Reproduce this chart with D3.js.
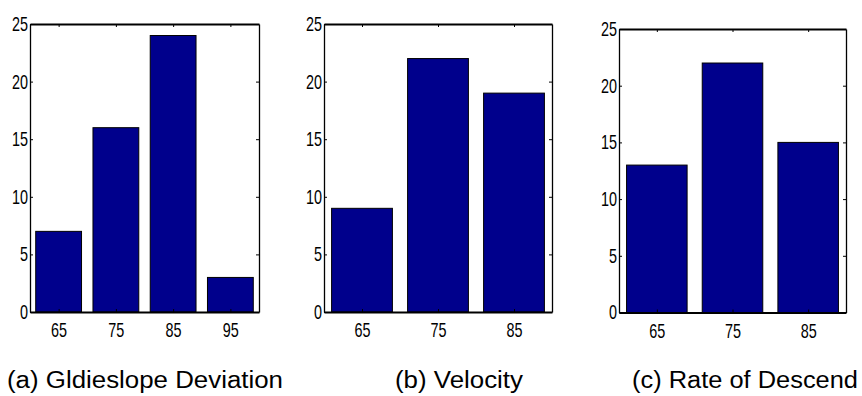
<!DOCTYPE html>
<html>
<head>
<meta charset="utf-8">
<script src="https://cdn.jsdelivr.net/npm/d3@7"></script>
<style>
  body { margin: 0; background: #fff; }
  svg { display: block; }
</style>
</head>
<body>
<svg id="chart" width="862" height="396"></svg>
<script>
// ---- data ----
const categoriesA = [65, 75, 85, 95];
const valuesA = [7, 16, 24, 3];
const categoriesB = [65, 75, 85];
const valuesB = [9, 22, 19];
const categoriesC = [65, 75, 85];
const valuesC = [13, 22, 15];
const yTicks = [0, 5, 10, 15, 20, 25];
const captions = ["(a) Gldieslope Deviation", "(b) Velocity", "(c) Rate of Descend"];

const svg = d3.select("#chart");
const tickFont = "'Liberation Sans', Arial, Helvetica, sans-serif";
const capFont = "'Liberation Sans', Arial, Helvetica, sans-serif";
const barColor = "#00008c";

const panels = [
  {cats: categoriesA, vals: valuesA, x0: 30, x1: 259, y0: 24, y1: 312, xdom: [60, 100]},
  {cats: categoriesB, vals: valuesB, x0: 324, x1: 552, y0: 24, y1: 312, xdom: [60, 90]},
  {cats: categoriesC, vals: valuesC, x0: 619, x1: 846, y0: 29, y1: 312.5, xdom: [60, 90]}
];
const capPos = [{x: 7, w: 276}, {x: 395, w: 128}, {x: 632, w: 226}];

panels.forEach((p, i) => {
  const x = d3.scaleLinear().domain(p.xdom).range([p.x0, p.x1]);
  const y = d3.scaleLinear().domain([0, 25]).range([p.y1, p.y0]);
  const g = svg.append("g");

  // bars
  g.selectAll("rect.bar").data(p.cats).join("rect")
    .attr("class", "bar")
    .attr("x", c => x(c - 4))
    .attr("width", c => x(c + 4) - x(c - 4))
    .attr("y", (c, j) => y(p.vals[j]))
    .attr("height", (c, j) => y(0) - y(p.vals[j]))
    .attr("fill", barColor)
    .attr("stroke", "#000")
    .attr("stroke-width", 1);

  // axes
  const left = d3.axisLeft(y).tickValues(yTicks).tickSizeInner(-3).tickSizeOuter(0).tickPadding(2);
  const right = d3.axisRight(y).tickValues(yTicks).tickSizeInner(-3).tickSizeOuter(0).tickFormat("");
  const bottom = d3.axisBottom(x).tickValues(p.cats).tickSizeInner(-3).tickSizeOuter(0).tickPadding(11);
  const top = d3.axisTop(x).tickValues(p.cats).tickSizeInner(-3).tickSizeOuter(0).tickFormat("");

  const gl = g.append("g").attr("transform", `translate(${p.x0},0)`).call(left);
  const gr = g.append("g").attr("transform", `translate(${p.x1},0)`).call(right);
  const gb = g.append("g").attr("transform", `translate(0,${p.y1})`).call(bottom);
  const gt = g.append("g").attr("transform", `translate(0,${p.y0})`).call(top);

  [gl, gr, gb, gt].forEach(a => {
    a.selectAll("path.domain").attr("stroke", "#000").attr("stroke-width", 1.3);
    a.selectAll(".tick line").attr("stroke", "#000").attr("stroke-width", 1);
    a.selectAll(".tick text")
      .attr("fill", "#000")
      .style("font-family", tickFont)
      .style("font-size", "20px")
      .style("transform-box", "fill-box")
      .style("transform", "scaleX(0.72)");
  });
  gl.selectAll(".tick text").style("transform-origin", "right center");
  gb.selectAll(".tick text").style("transform-origin", "center");
  gb.selectAll("path.domain").attr("stroke-width", 2);
  gt.selectAll("path.domain").attr("stroke-width", 2);

  // caption
  svg.append("text")
    .attr("x", capPos[i].x)
    .attr("y", 388)
    .attr("textLength", capPos[i].w)
    .attr("lengthAdjust", "spacingAndGlyphs")
    .style("font-family", capFont)
    .style("font-size", "23px")
    .attr("fill", "#000")
    .text(captions[i]);
});
</script>
</body>
</html>
